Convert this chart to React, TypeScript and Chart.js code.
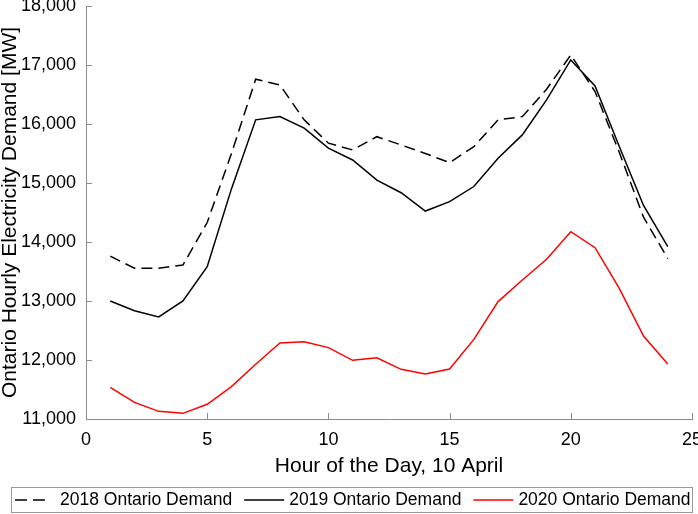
import React, { useEffect, useRef } from "react";
import { Chart, registerables } from "chart.js";

Chart.register(...registerables);

const hours = [1, 2, 3, 4, 5, 6, 7, 8, 9, 10, 11, 12, 13, 14, 15, 16, 17, 18, 19, 20, 21, 22, 23, 24];
const demand2018 = [13760, 13555, 13555, 13610, 14330, 15500, 16760, 16660, 16070, 15675, 15560, 15785, 15645, 15500, 15345, 15615, 16070, 16125, 16590, 17170, 16550, 15520, 14420, 13720];
const demand2019 = [13000, 12836, 12730, 13000, 13580, 14900, 16070, 16125, 15930, 15590, 15390, 15050, 14835, 14525, 14685, 14940, 15420, 15815, 16410, 17085, 16645, 15620, 14620, 13920];
const demand2020 = [11537, 11282, 11130, 11096, 11250, 11548, 11927, 12288, 12310, 12210, 11994, 12039, 11842, 11763, 11847, 12350, 12990, 13356, 13707, 14175, 13904, 13215, 12407, 11932];
const seriesLabels = ["2018 Ontario Demand", "2019 Ontario Demand", "2020 Ontario Demand"];
const xTitle = "Hour of the Day, 10 April";
const yTitle = "Ontario Hourly Electricity Demand [MW]";

const FONT = "'Liberation Sans', Arial, Helvetica, sans-serif";
const AXIS_COLOR = "#8c8c8c";

const inwardTicks = {
  id: "inwardTicks",
  afterDraw(chart: any) {
    const { ctx, chartArea, scales } = chart;
    ctx.save();
    ctx.strokeStyle = AXIS_COLOR;
    ctx.lineWidth = 1;
    const len = 6;
    scales.y.ticks.forEach((t: any) => {
      const py = Math.round(scales.y.getPixelForValue(t.value)) + 0.5;
      ctx.beginPath();
      ctx.moveTo(chartArea.left, py);
      ctx.lineTo(chartArea.left + len, py);
      ctx.stroke();
    });
    scales.x.ticks.forEach((t: any) => {
      const px = Math.round(scales.x.getPixelForValue(t.value)) + 0.5;
      ctx.beginPath();
      ctx.moveTo(px, chartArea.bottom);
      ctx.lineTo(px, chartArea.bottom - len);
      ctx.stroke();
    });
    ctx.restore();
  },
};

const boxedLegend = {
  id: "boxedLegend",
  afterDraw(chart: any) {
    const { ctx } = chart;
    ctx.save();
    const top = 487, h = 25;
    ctx.strokeStyle = "#9a9a9a";
    ctx.lineWidth = 1;
    ctx.strokeRect(11.5, top + 0.5, 681, h);
    const cy = top + h / 2 + 0.5;
    ctx.font = `17.5px ${FONT}`;
    ctx.textBaseline = "middle";
    ctx.fillStyle = "#000";
    let x = 15;
    chart.data.datasets.forEach((ds: any) => {
      ctx.strokeStyle = ds.borderColor;
      ctx.lineWidth = 1.5;
      ctx.setLineDash(ds.borderDash ? [12, 6, 12, 100] : []);
      ctx.beginPath();
      ctx.moveTo(x, Math.round(cy));
      ctx.lineTo(x + 40, Math.round(cy));
      ctx.stroke();
      ctx.setLineDash([]);
      const tx = x + 45;
      ctx.fillText(ds.label, tx, cy);
      x = tx + ctx.measureText(ds.label).width + 12;
    });
    ctx.restore();
  },
};

export default function App() {
  const ref = useRef<HTMLCanvasElement>(null);
  useEffect(() => {
    document.body.style.margin = "0";
    const chart = new Chart(ref.current!, {
      type: "line",
      data: {
        datasets: [
          {
            label: seriesLabels[0],
            data: hours.map((h, i) => ({ x: h, y: demand2018[i] })),
            borderColor: "#000000",
            backgroundColor: "transparent",
            borderWidth: 1.5,
            borderDash: [11, 6],
            pointRadius: 0,
          },
          {
            label: seriesLabels[1],
            data: hours.map((h, i) => ({ x: h, y: demand2019[i] })),
            borderColor: "#000000",
            backgroundColor: "transparent",
            borderWidth: 1.5,
            pointRadius: 0,
          },
          {
            label: seriesLabels[2],
            data: hours.map((h, i) => ({ x: h, y: demand2020[i] })),
            borderColor: "#ff0000",
            backgroundColor: "transparent",
            borderWidth: 1.5,
            pointRadius: 0,
          },
        ],
      },
      options: {
        animation: false,
        responsive: false,
        layout: { padding: { top: 0, right: 0, left: 0, bottom: 35 } },
        plugins: {
          tooltip: { enabled: false },
          legend: { display: false },
        },
        scales: {
          x: {
            type: "linear",
            min: 0,
            max: 25,
            grid: { display: false, drawTicks: false },
            border: { display: true, color: AXIS_COLOR, width: 1 },
            ticks: { stepSize: 5, color: "#000", font: { family: FONT, size: 18, lineHeight: 1.2 }, padding: 10, maxRotation: 0 },
            title: { display: true, text: xTitle, color: "#000", font: { family: FONT, size: 21, lineHeight: 1 }, padding: { top: 2, bottom: 2 } },
            afterFit: (s: any) => {
              s.height = 60;
              s.paddingLeft = 0;
              s.paddingRight = 6;
            },
          },
          y: {
            min: 11000,
            max: 18000,
            grid: { display: false, drawTicks: false },
            border: { display: true, color: AXIS_COLOR, width: 1 },
            ticks: {
              stepSize: 1000,
              color: "#000",
              font: { family: FONT, size: 18 },
              padding: 10,
              callback: (v: any) => Number(v).toLocaleString("en-US"),
            },
            title: { display: true, text: yTitle, color: "#000", font: { family: FONT, size: 21, lineHeight: 1 }, padding: { top: 0, bottom: 2 } },
            afterFit: (s: any) => {
              s.width = 86;
              s.paddingTop = 6;
              s.paddingBottom = 0;
            },
          },
        },
      },
      plugins: [inwardTicks, boxedLegend],
    });
    return () => chart.destroy();
  }, []);
  return <canvas ref={ref} width={698} height={514} style={{ display: "block" }} />;
}
